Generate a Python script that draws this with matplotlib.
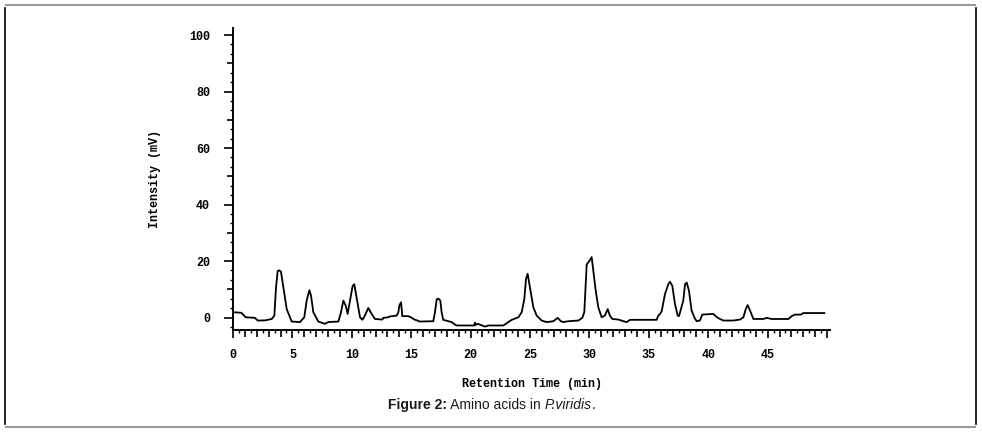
import numpy as np
import matplotlib
matplotlib.use('Agg')
import matplotlib.pyplot as plt
from matplotlib.ticker import MultipleLocator, FuncFormatter
from matplotlib.lines import Line2D

# chromatogram trace (retention time in min, intensity in mV)
rt = [0.0, 0.7, 1.07, 1.85, 2.08, 2.7, 3.26, 3.48, 3.62, 3.76, 3.9, 4.04, 4.24, 4.52, 4.94,
      5.64, 6.0, 6.2, 6.43, 6.57, 6.76, 7.18, 7.74, 8.02, 8.87, 9.09, 9.29, 9.49, 9.65, 9.85,
      10.07, 10.21, 10.4, 10.69, 10.89, 11.1, 11.39, 11.67, 11.95, 12.57, 12.65, 13.07, 13.2,
      13.78, 13.92, 14.0, 14.14, 14.2, 14.25, 14.76, 14.98, 15.26, 15.54, 15.66, 16.86, 17.0,
      17.15, 17.29, 17.45, 17.56, 17.7, 18.12, 18.4, 18.69, 18.83, 20.3, 20.37, 20.45, 20.6,
      21.2, 21.5, 22.75, 23.18, 23.46, 24.02, 24.3, 24.52, 24.66, 24.8, 25.0, 25.28, 25.56,
      25.98, 26.4, 26.96, 27.33, 27.6, 27.8, 28.2, 29.07, 29.4, 29.57, 29.77, 29.99, 30.19,
      30.33, 30.53, 30.75, 31.03, 31.3, 31.54, 31.72, 31.93, 32.43, 32.86, 33.14, 33.42,
      35.66, 35.8, 35.94, 36.08, 36.36, 36.64, 36.78, 36.98, 37.2, 37.43, 37.54, 37.9, 38.05,
      38.19, 38.38, 38.6, 38.85, 39.03, 39.3, 39.5, 40.43, 40.57, 40.85, 41.27, 42.1, 42.68,
      42.96, 43.16, 43.32, 43.52, 43.8, 44.64, 44.92, 45.34, 46.75, 47.02, 47.3, 47.8, 48.0,
      49.77]
mv = [1.9, 1.7, 0.1, -0.1, -1.05, -1.0, -0.5, 0.7, 10.6, 16.5, 16.7, 16.2, 10.6, 3.0, -1.4,
      -1.6, 0.1, 6.0, 9.7, 7.7, 1.9, -1.4, -2.2, -1.6, -1.4, 1.9, 6.0, 4.2, 1.3, 6.0,
      11.2, 11.8, 7.1, 0.1, -0.8, 0.7, 3.4, 1.3, -0.5, -0.7, -0.1, 0.1, 0.4,
      0.7, 1.9, 4.2, 5.4, 3.0, 0.5, 0.5, 0.1, -0.7, -1.05, -1.4, -1.3, 1.9,
      6.5, 6.7, 6.0, 1.9, -0.8, -1.3, -1.6, -2.5, -2.8, -2.8, -1.8, -2.6, -2.2,
      -3.2, -2.8, -2.8, -1.6, -0.8, 0.1, 1.9, 6.5, 13.6, 15.5, 10.6, 3.6, 0.7,
      -1.05, -1.6, -1.3, -0.1, -1.3, -1.6, -1.3, -1.05, -0.1, 1.9, 18.8, 20.0, 21.4,
      16.5, 9.5, 3.6, 0.1, 0.7, 3.0, 0.7, -0.5, -0.7, -1.3, -1.6, -0.8,
      -0.8, 0.7, 1.3, 2.2, 8.3, 11.8, 12.7, 11.2, 4.8, 0.7, 0.5, 6.0, 11.8,
      12.4, 9.5, 2.5, -0.1, -1.3, -1.05, 1.05, 1.3, 0.7, -0.2, -1.05, -1.05, -0.7,
      0.1, 3.0, 4.4, 2.5, -0.5, -0.5, -0.1, -0.5, -0.5, 0.5, 1.05, 1.05, 1.6,
      1.6]

W, H = 982, 432
fig = plt.figure(figsize=(W / 100, H / 100), dpi=100)
ax = fig.add_axes([233 / W, 1 - 330 / H, 597 / W, 302 / H])

ax.plot(rt, mv, color='black', linewidth=1.3)

ax.set_xlim(0, 50.25)
ax.set_ylim(-4.4, 102.5)

for side in ('top', 'right'):
    ax.spines[side].set_visible(False)
for side in ('left', 'bottom'):
    ax.spines[side].set_linewidth(1.4)

mono = {'family': 'Liberation Mono', 'weight': 'bold', 'size': 8.5}

# ticks: every 1 min (longer at 5), tiny at 0.5; y every 10 (longer at 20), tiny at 10/3
ax.xaxis.set_major_locator(MultipleLocator(1))
ax.xaxis.set_minor_locator(MultipleLocator(0.5))
ax.xaxis.set_major_formatter(
    FuncFormatter(lambda v, p: f"{v:.0f}" if round(v) % 5 == 0 and v < 49 else ""))
ax.yaxis.set_major_locator(MultipleLocator(10))
ax.yaxis.set_minor_locator(MultipleLocator(10 / 3))
ax.yaxis.set_major_formatter(FuncFormatter(lambda v, p: f"{v:.0f}" if round(v) % 20 == 0 else ""))

ax.tick_params(axis='x', which='major', length=5, width=1.2, pad=9, direction='out')
ax.tick_params(axis='x', which='minor', length=2.5, width=1.0, direction='out')
ax.tick_params(axis='y', which='major', length=4.5, width=1.2, pad=12, direction='out')
ax.tick_params(axis='y', which='minor', length=2.5, width=1.0, direction='out')

for lab in ax.get_xticklabels() + ax.get_yticklabels():
    lab.set_fontfamily(mono['family'])
    lab.set_fontweight(mono['weight'])
    lab.set_fontsize(mono['size'])

fig.canvas.draw()
for t in ax.xaxis.get_major_ticks():
    if round(t.get_loc()) % 5 == 0:
        t.tick1line.set_markersize(6)
for t in ax.yaxis.get_major_ticks():
    if round(t.get_loc()) % 20 == 0:
        t.tick1line.set_markersize(6.5)

ax.set_xlabel("Retention Time (min)", fontdict=mono, labelpad=12)
ax.set_ylabel("Intensity (mV)", fontdict=mono, labelpad=20)

# caption with mixed styles
fig.canvas.draw()
r = fig.canvas.get_renderer()
parts = [("Figure 2:", 'bold', 'normal'), (" Amino acids in ", 'normal', 'normal'),
         ("P.viridis", 'normal', 'italic'), (".", 'normal', 'normal')]
texts = []
for s, w, st in parts:
    texts.append(fig.text(0, 0, s, fontsize=10, family='Liberation Sans', weight=w,
                          style=st, color='#1a1a1a', va='center', transform=None))
widths = [t.get_window_extent(r).width for t in texts]
x0 = 492 - sum(widths) / 2
for t, w in zip(texts, widths):
    t.set_position((x0, H - 405))
    x0 += w

# frame around the figure
fig.add_artist(Line2D([6 / W, 975 / W], [1 - 5 / H, 1 - 5 / H], color='#999999', lw=1.5,
                      transform=fig.transFigure))
fig.add_artist(Line2D([6 / W, 975 / W], [1 - 427 / H, 1 - 427 / H], color='#999999', lw=1.5,
                      transform=fig.transFigure))
fig.add_artist(Line2D([5 / W, 5 / W], [1 - 8 / H, 1 - 424 / H], color='black', lw=1.2,
                      transform=fig.transFigure))
fig.add_artist(Line2D([976 / W, 976 / W], [1 - 8 / H, 1 - 424 / H], color='black', lw=1.2,
                      transform=fig.transFigure))

fig.savefig('out.png', dpi=100)
